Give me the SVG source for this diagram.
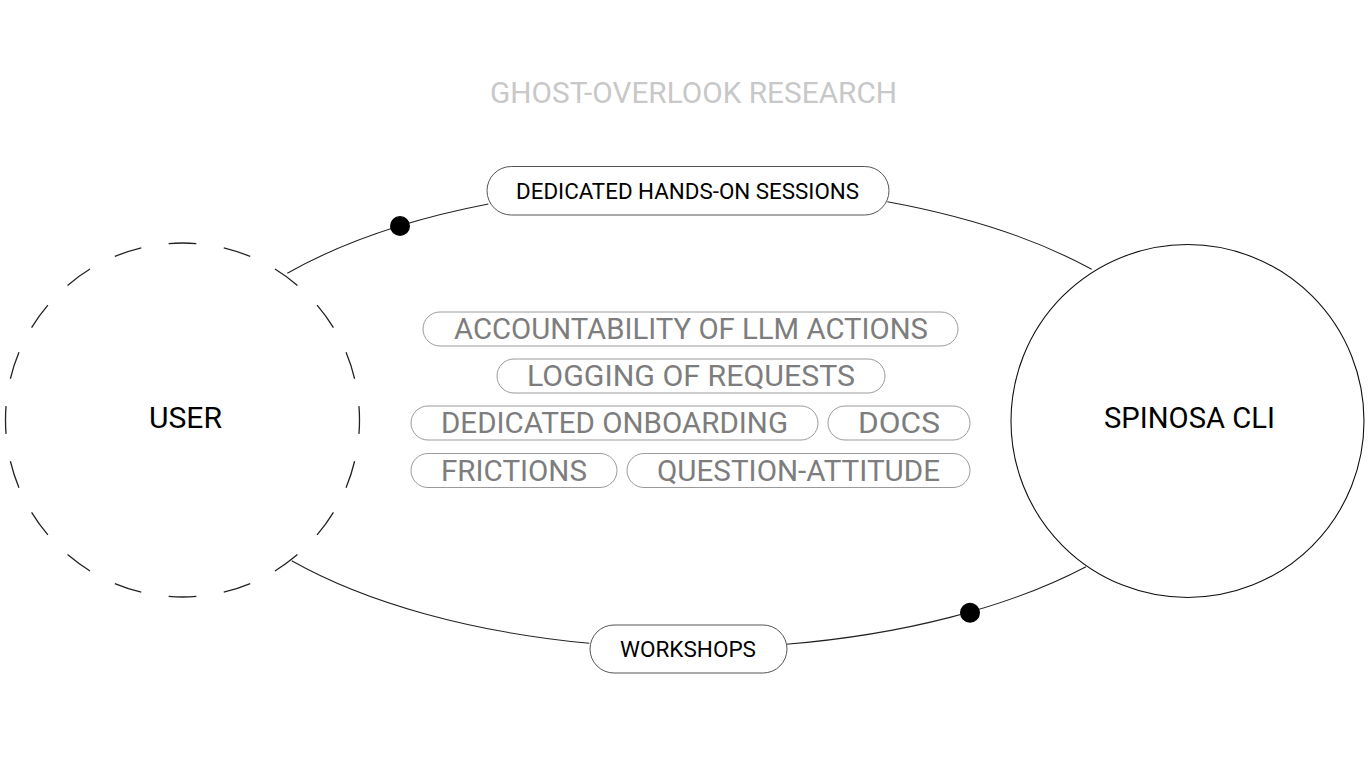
<svg xmlns="http://www.w3.org/2000/svg" width="1369" height="772" viewBox="0 0 1369 772">
<style>
text{font-family:Roboto,"Liberation Sans",Arial,sans-serif;text-anchor:middle}
.title{font-size:29px;fill:#c8c8c8}
.big{font-size:29px;fill:#000}
.lbl{font-size:22px;fill:#000}
.tag{font-size:29px;fill:#7d7d7d}
.pillk{fill:#fff;stroke:#555;stroke-width:1}
.pillg{fill:#fff;stroke:#9a9a9a;stroke-width:1}
.conn{fill:none;stroke:#222;stroke-width:1.1}
.dot{fill:#000}
</style>
<rect width="1369" height="772" fill="#fff"/>
<text class="title" x="693.5" y="103.3" textLength="407" lengthAdjust="spacingAndGlyphs">GHOST-OVERLOOK RESEARCH</text>
<g id="connectors">
<path class="conn" d="M287.3,273.3 A516,232 0 0,1 488.3,204"/>
<path class="conn" d="M887.3,201.7 A516,232 0 0,1 1091.7,269.3"/>
<path class="conn" d="M291.7,560.7 A516,232 0 0,0 589.3,643.3"/>
<path class="conn" d="M786,644.3 A516,232 0 0,0 1086,566.7"/>
<circle class="dot" cx="400" cy="226" r="10"/>
<circle class="dot" cx="970" cy="612.7" r="10"/>
</g>
<g id="user">
<circle cx="182.5" cy="420" r="177" fill="#fff" stroke="#222" stroke-width="1.3" pathLength="40" stroke-dasharray="1 1" stroke-dashoffset="0.5"/>
<text class="big" x="185.5" y="428.3" textLength="73" lengthAdjust="spacingAndGlyphs">USER</text>
</g>
<g id="spinosa">
<circle cx="1187.5" cy="421" r="176.5" fill="#fff" stroke="#111" stroke-width="1.1"/>
<text class="big" x="1189.5" y="427.5" textLength="171" lengthAdjust="spacingAndGlyphs">SPINOSA CLI</text>
</g>
<g id="hands-on">
<rect class="pillk" x="487" y="166.5" width="402" height="48.5" rx="24.25"/>
<text class="lbl" x="687.5" y="198.8" textLength="343" lengthAdjust="spacingAndGlyphs">DEDICATED HANDS-ON SESSIONS</text>
</g>
<g id="workshops">
<rect class="pillk" x="590" y="625" width="197" height="48" rx="24"/>
<text class="lbl" x="688" y="657" textLength="136" lengthAdjust="spacingAndGlyphs">WORKSHOPS</text>
</g>
<g id="accountability">
<rect class="pillg" x="423" y="312" width="535" height="34" rx="17"/>
<text class="tag" x="691" y="339.3" textLength="474" lengthAdjust="spacingAndGlyphs">ACCOUNTABILITY OF LLM ACTIONS</text>
</g>
<g id="logging">
<rect class="pillg" x="497" y="359" width="388" height="34" rx="17"/>
<text class="tag" x="691" y="386.3" textLength="328" lengthAdjust="spacingAndGlyphs">LOGGING OF REQUESTS</text>
</g>
<g id="onboarding">
<rect class="pillg" x="411" y="406" width="407" height="34" rx="17"/>
<text class="tag" x="614.5" y="433.3" textLength="347" lengthAdjust="spacingAndGlyphs">DEDICATED ONBOARDING</text>
</g>
<g id="docs">
<rect class="pillg" x="828" y="406" width="142" height="34" rx="17"/>
<text class="tag" x="899" y="433.3" textLength="82" lengthAdjust="spacingAndGlyphs">DOCS</text>
</g>
<g id="frictions">
<rect class="pillg" x="411" y="453.5" width="206" height="34" rx="17"/>
<text class="tag" x="514" y="480.8" textLength="146" lengthAdjust="spacingAndGlyphs">FRICTIONS</text>
</g>
<g id="question">
<rect class="pillg" x="627" y="453.5" width="343" height="34" rx="17"/>
<text class="tag" x="798.5" y="480.8" textLength="283" lengthAdjust="spacingAndGlyphs">QUESTION-ATTITUDE</text>
</g>
</svg>
